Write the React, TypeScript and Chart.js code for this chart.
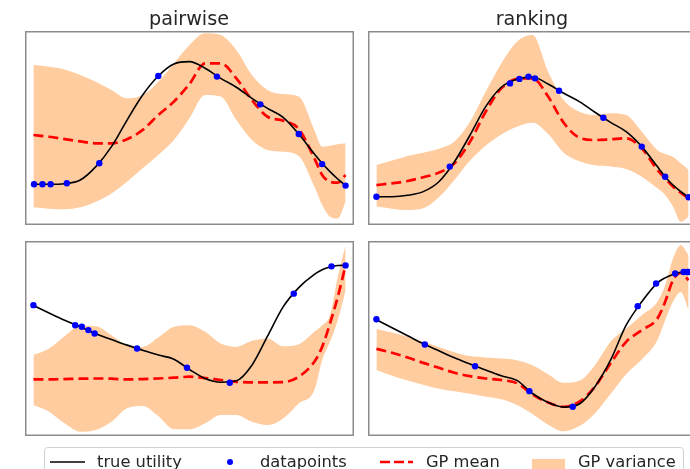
import React, { useEffect, useRef } from "react";
import { Chart, registerables } from "chart.js";

Chart.register(...registerables);

// shared x positions (normalised input domain)
const xGrid = [0, 0.05, 0.1, 0.15, 0.2, 0.25, 0.3, 0.35, 0.4, 0.45, 0.5, 0.55, 0.6, 0.65, 0.7, 0.75, 0.8, 0.85, 0.9, 0.925, 0.95, 0.975, 1];

// ---- pairwise, top ----
const pairTopTruth = [0.21, 0.21, 0.213, 0.232, 0.301, 0.404, 0.541, 0.67, 0.768, 0.83, 0.842, 0.808, 0.756, 0.71, 0.653, 0.601, 0.555, 0.469, 0.366, 0.318, 0.275, 0.237, 0.203];
const pairTopMean = [0.464, 0.455, 0.443, 0.431, 0.421, 0.421, 0.442, 0.49, 0.567, 0.636, 0.727, 0.833, 0.833, 0.756, 0.644, 0.558, 0.538, 0.495, 0.344, 0.258, 0.223, 0.218, 0.258];
const pairTopUpper = [0.825, 0.816, 0.802, 0.773, 0.739, 0.696, 0.653, 0.67, 0.739, 0.833, 0.928, 0.988, 0.979, 0.902, 0.773, 0.696, 0.675, 0.662, 0.49, 0.404, 0.409, 0.416, 0.421];
const pairTopLower = [0.091, 0.084, 0.081, 0.091, 0.12, 0.163, 0.223, 0.292, 0.361, 0.438, 0.55, 0.67, 0.662, 0.541, 0.438, 0.387, 0.378, 0.356, 0.198, 0.103, 0.043, 0.034, 0.12];
const pairTopDotX = [0.002, 0.029, 0.055, 0.107, 0.211, 0.4, 0.588, 0.727, 0.85, 0.925, 1.0];
const pairTopDotY = [0.21, 0.21, 0.21, 0.215, 0.318, 0.768, 0.765, 0.622, 0.469, 0.314, 0.203];

// ---- ranking, top ----
const rankTopTruth = [0.146, 0.146, 0.153, 0.172, 0.223, 0.326, 0.464, 0.61, 0.71, 0.751, 0.763, 0.727, 0.679, 0.636, 0.581, 0.529, 0.481, 0.404, 0.301, 0.249, 0.206, 0.172, 0.143];
const rankTopMean = [0.206, 0.215, 0.227, 0.246, 0.27, 0.318, 0.43, 0.584, 0.704, 0.753, 0.756, 0.662, 0.527, 0.45, 0.438, 0.442, 0.447, 0.395, 0.284, 0.241, 0.198, 0.167, 0.137];
const rankTopUpper = [0.309, 0.332, 0.356, 0.373, 0.393, 0.43, 0.533, 0.687, 0.833, 0.945, 0.979, 0.79, 0.644, 0.584, 0.567, 0.576, 0.567, 0.481, 0.387, 0.366, 0.352, 0.318, 0.284];
const rankTopLower = [0.095, 0.084, 0.077, 0.086, 0.143, 0.232, 0.332, 0.409, 0.467, 0.507, 0.527, 0.469, 0.373, 0.328, 0.308, 0.302, 0.289, 0.249, 0.189, 0.155, 0.095, 0.017, 0.043];
const rankTopDotX = [0, 0.235, 0.428, 0.458, 0.487, 0.508, 0.585, 0.727, 0.85, 0.925, 1];
const rankTopDotY = [0.146, 0.301, 0.73, 0.753, 0.765, 0.756, 0.692, 0.553, 0.404, 0.249, 0.143];

// ---- pairwise, bottom ----
const pairBotTruth = [0.669, 0.631, 0.594, 0.56, 0.524, 0.495, 0.466, 0.44, 0.415, 0.394, 0.341, 0.295, 0.276, 0.283, 0.363, 0.512, 0.662, 0.761, 0.829, 0.853, 0.867, 0.874, 0.875];
const pairBotMean = [0.29, 0.29, 0.292, 0.294, 0.295, 0.294, 0.29, 0.292, 0.295, 0.299, 0.304, 0.297, 0.287, 0.278, 0.275, 0.275, 0.276, 0.304, 0.381, 0.457, 0.577, 0.713, 0.875];
const pairBotUpper = [0.415, 0.449, 0.512, 0.565, 0.563, 0.517, 0.466, 0.457, 0.505, 0.56, 0.568, 0.534, 0.474, 0.457, 0.488, 0.5, 0.46, 0.47, 0.534, 0.568, 0.619, 0.816, 0.978];
const pairBotLower = [0.159, 0.125, 0.065, 0.022, 0.031, 0.073, 0.142, 0.154, 0.102, 0.034, 0.034, 0.065, 0.108, 0.108, 0.073, 0.056, 0.09, 0.167, 0.235, 0.389, 0.483, 0.594, 0.747];
const pairBotDotX = [0, 0.134, 0.155, 0.176, 0.196, 0.332, 0.492, 0.629, 0.834, 0.955, 1];
const pairBotDotY = [0.671, 0.568, 0.56, 0.543, 0.526, 0.449, 0.35, 0.273, 0.73, 0.87, 0.875];

// ---- ranking, bottom ----
const rankBotTruth = [0.596, 0.555, 0.514, 0.473, 0.437, 0.401, 0.369, 0.338, 0.309, 0.285, 0.218, 0.172, 0.148, 0.164, 0.253, 0.389, 0.568, 0.688, 0.785, 0.811, 0.828, 0.84, 0.841];
const rankBotMean = [0.447, 0.427, 0.403, 0.375, 0.35, 0.324, 0.307, 0.295, 0.287, 0.271, 0.213, 0.172, 0.15, 0.176, 0.253, 0.372, 0.483, 0.543, 0.602, 0.688, 0.799, 0.836, 0.799];
const rankBotUpper = [0.549, 0.531, 0.509, 0.483, 0.457, 0.43, 0.41, 0.403, 0.398, 0.389, 0.363, 0.317, 0.273, 0.283, 0.363, 0.483, 0.551, 0.619, 0.688, 0.773, 0.91, 0.978, 0.927];
const rankBotLower = [0.338, 0.309, 0.285, 0.263, 0.242, 0.229, 0.217, 0.201, 0.188, 0.159, 0.113, 0.058, 0.024, 0.051, 0.116, 0.215, 0.317, 0.392, 0.491, 0.594, 0.688, 0.739, 0.645];
const rankBotDotX = [0, 0.155, 0.316, 0.49, 0.629, 0.837, 0.896, 0.957, 0.984, 0.995, 1];
const rankBotDotY = [0.599, 0.469, 0.358, 0.23, 0.15, 0.666, 0.782, 0.833, 0.841, 0.841, 0.841];

const columnTitles = ["pairwise", "ranking"];
const legendLabels = ["true utility", "datapoints", "GP mean", "GP variance"];

const BAND = "rgba(255,127,14,0.4)";
const FONT = "'DejaVu Sans', sans-serif";
const TEXT = "#262626";

const framePlugin = {
  id: "frame",
  afterDraw(chart: any) {
    const { ctx, chartArea: a } = chart;
    ctx.save();
    ctx.strokeStyle = "#8c8c8c";
    ctx.lineWidth = 1.5;
    ctx.strokeRect(a.left + 0.75, a.top + 0.75, a.right - a.left - 1.5, a.bottom - a.top - 1.5);
    ctx.restore();
  },
};

type PanelProps = {
  left: number;
  top: number;
  width: number;
  height: number;
  truth: number[];
  mean: number[];
  upper: number[];
  lower: number[];
  dotX: number[];
  dotY: number[];
};

function Panel(p: PanelProps) {
  const ref = useRef<HTMLCanvasElement>(null);
  useEffect(() => {
    const pts = (ys: number[]) => ys.map((y, i) => ({ x: xGrid[i], y }));
    const chart = new Chart(ref.current as HTMLCanvasElement, {
      type: "line",
      data: {
        datasets: [
          {
            label: legendLabels[1],
            data: p.dotX.map((x, i) => ({ x, y: p.dotY[i] })),
            showLine: false,
            pointRadius: 3.2,
            pointBackgroundColor: "#0000ff",
            pointBorderWidth: 0,
            borderColor: "#0000ff",
            order: 0,
          } as any,
          {
            label: legendLabels[0],
            data: pts(p.truth),
            borderColor: "#000000",
            borderWidth: 1.6,
            pointRadius: 0,
            cubicInterpolationMode: "monotone",
            fill: false,
            order: 1,
          },
          {
            label: legendLabels[2],
            data: pts(p.mean),
            borderColor: "#ff0000",
            borderWidth: 2.7,
            borderDash: [10, 5],
            pointRadius: 0,
            cubicInterpolationMode: "monotone",
            fill: false,
            order: 2,
          },
          {
            label: legendLabels[3],
            data: pts(p.upper),
            borderColor: "rgba(0,0,0,0)",
            borderWidth: 0,
            pointRadius: 0,
            backgroundColor: BAND,
            cubicInterpolationMode: "monotone",
            fill: "+1",
            order: 3,
          },
          {
            label: "lower",
            data: pts(p.lower),
            borderColor: "rgba(0,0,0,0)",
            borderWidth: 0,
            pointRadius: 0,
            cubicInterpolationMode: "monotone",
            fill: false,
            order: 4,
          },
        ],
      },
      options: {
        responsive: false,
        animation: false,
        events: [],
        layout: { padding: 0, autoPadding: false },
        plugins: { legend: { display: false }, tooltip: { enabled: false }, title: { display: false } },
        scales: {
          x: { type: "linear", min: -0.027, max: 1.027, display: false },
          y: { type: "linear", min: 0, max: 1, display: false },
        },
      } as any,
      plugins: [framePlugin],
    });
    return () => chart.destroy();
  }, []);
  return (
    <canvas
      ref={ref}
      width={p.width}
      height={p.height}
      style={{ position: "absolute", left: p.left, top: p.top, width: p.width, height: p.height }}
    />
  );
}

export default function App() {
  return (
    <div
      style={{
        position: "fixed",
        left: 0,
        top: 0,
        width: 690,
        height: 469,
        overflow: "hidden",
        background: "#ffffff",
      }}
    >
      <Panel left={25} top={31} width={329} height={194} truth={pairTopTruth} mean={pairTopMean} upper={pairTopUpper} lower={pairTopLower} dotX={pairTopDotX} dotY={pairTopDotY} />
      <Panel left={368} top={31} width={329} height={194} truth={rankTopTruth} mean={rankTopMean} upper={rankTopUpper} lower={rankTopLower} dotX={rankTopDotX} dotY={rankTopDotY} />
      <Panel left={25} top={241} width={329} height={195} truth={pairBotTruth} mean={pairBotMean} upper={pairBotUpper} lower={pairBotLower} dotX={pairBotDotX} dotY={pairBotDotY} />
      <Panel left={368} top={241} width={329} height={195} truth={rankBotTruth} mean={rankBotMean} upper={rankBotUpper} lower={rankBotLower} dotX={rankBotDotX} dotY={rankBotDotY} />
      <svg width={690} height={469} style={{ position: "absolute", left: 0, top: 0 }}>
        <text x={189} y={24.5} textAnchor="middle" fontFamily={FONT} fontSize={19.2} fill={TEXT}>
          {columnTitles[0]}
        </text>
        <text x={532} y={24.5} textAnchor="middle" fontFamily={FONT} fontSize={19.2} fill={TEXT}>
          {columnTitles[1]}
        </text>
        <rect x={44.5} y={447.5} width={639} height={40} rx={3} fill="#ffffff" stroke="#d0d0d0" strokeWidth={1} />
        <line x1={50} x2={85} y1={462} y2={462} stroke="#000000" strokeWidth={1.6} />
        <text x={97} y={467} fontFamily={FONT} fontSize={16.3} fill={TEXT}>
          {legendLabels[0]}
        </text>
        <circle cx={230} cy={462} r={3} fill="#0000ff" />
        <text x={260} y={467} fontFamily={FONT} fontSize={16.3} fill={TEXT}>
          {legendLabels[1]}
        </text>
        <line x1={380} x2={413} y1={462} y2={462} stroke="#ff0000" strokeWidth={2.7} strokeDasharray="10 4" />
        <text x={426} y={467} fontFamily={FONT} fontSize={16.3} fill={TEXT}>
          {legendLabels[2]}
        </text>
        <rect x={532} y={459} width={33} height={12} fill={BAND} />
        <text x={578} y={467} fontFamily={FONT} fontSize={16.3} fill={TEXT}>
          {legendLabels[3]}
        </text>
      </svg>
    </div>
  );
}
